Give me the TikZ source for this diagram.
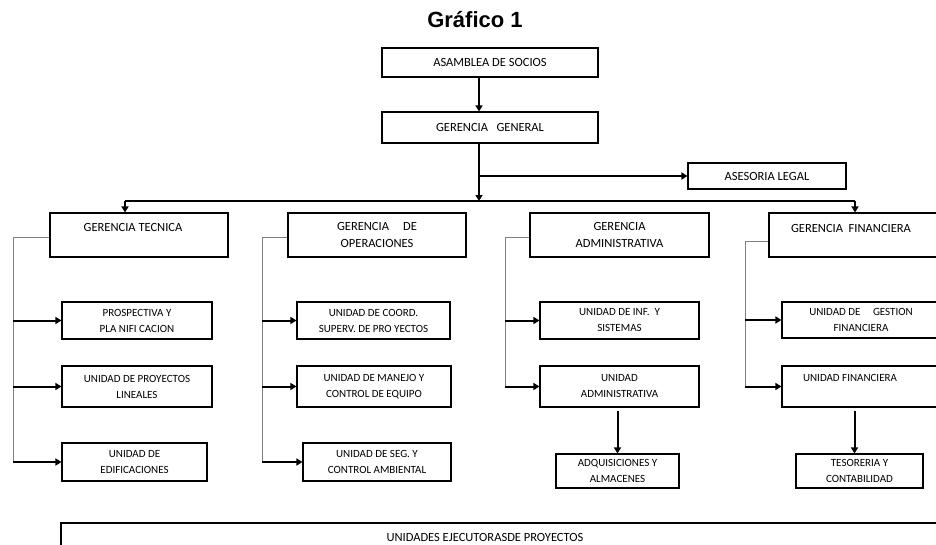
\documentclass[tikz,border=0pt]{standalone}
\usepackage{fontspec}
\setmainfont{Carlito}
\newfontfamily\titlefont{Liberation Sans}
\usetikzlibrary{arrows.meta}

\tikzset{
  box/.style={draw, line width=1.1pt, inner sep=0pt, align=center, font=\fontsize{11}{16}\selectfont},
  headbox/.style={box, font=\fontsize{12.5}{17}\selectfont},
  lbl/.style={inner sep=0pt, align=center, font=\fontsize{12.5}{17}\selectfont},
  arr/.style={line width=2pt, -{Triangle[length=6pt,width=7pt]}},
  bus/.style={line width=1.3pt},
  side/.style={gray, line width=1pt},
}

\begin{document}
\begin{tikzpicture}[x=1pt, y=-1pt]
	\useasboundingbox (0,0) rectangle (936,544);
	\clip (0,0) rectangle (936,544);

	% Title
	\node[font=\titlefont\bfseries\fontsize{22}{26}\selectfont] (titulo) at (475,20) {Gráfico 1};

	% Top levels
	\node[headbox, minimum width=216pt, minimum height=29pt] (asamblea) at (490,62.5) {ASAMBLEA DE SOCIOS};
	\node[headbox, minimum width=216pt, minimum height=31pt] (general) at (490,127.5) {GERENCIA\ \ \ GENERAL};
	\node[headbox, minimum width=158pt, minimum height=26pt] (asesoria) at (767,176) {ASESORIA LEGAL};

	% Gerencias
	\node[box, minimum width=178pt, minimum height=44pt] (tecnica) at (139,235) {};
	\node[lbl] (tecnica-t) at (133,227) {GERENCIA TECNICA};
	\node[headbox, minimum width=178pt, minimum height=44pt] (operaciones) at (377,235) {GERENCIA\ \ \ \ \ DE\\OPERACIONES};
	\node[headbox, minimum width=179pt, minimum height=44pt] (administrativa) at (619.5,235) {GERENCIA\\ADMINISTRATIVA};
	\node[box, minimum width=171pt, minimum height=44pt] (financiera) at (854.5,235) {};
	\node[lbl] (financiera-t) at (851,228) {GERENCIA\ \ FINANCIERA};

	% Unidades
	\node[box, minimum width=150pt, minimum height=37pt] (prospectiva) at (137,320.5) {PROSPECTIVA Y\\PLA NIFI CACION};
	\node[box, minimum width=150pt, minimum height=41pt] (lineales) at (137,386.5) {UNIDAD DE PROYECTOS\\LINEALES};
	\node[box, minimum width=145pt, minimum height=38pt] (edificaciones) at (134.5,462) {UNIDAD DE\\EDIFICACIONES};

	\node[box, minimum width=153pt, minimum height=37pt] (coord) at (373.5,320.5) {UNIDAD DE COORD.\\SUPERV. DE PRO YECTOS};
	\node[box, minimum width=154pt, minimum height=41pt] (manejo) at (374,386.5) {UNIDAD DE MANEJO Y\\CONTROL DE EQUIPO};
	\node[box, minimum width=148pt, minimum height=38pt] (seg) at (377,462) {UNIDAD DE SEG. Y\\CONTROL AMBIENTAL};

	\node[box, minimum width=159pt, minimum height=37pt] (inf) at (619.5,320.5) {UNIDAD DE INF.\ \ Y\\SISTEMAS};
	\node[box, minimum width=159pt, minimum height=41pt] (unidadadm) at (619.5,386.5) {UNIDAD\\ADMINISTRATIVA};
	\node[box, minimum width=123pt, minimum height=34pt] (adquisiciones) at (617.5,471) {ADQUISICIONES Y\\ALMACENES};

	\node[box, minimum width=158pt, minimum height=36pt] (gestion) at (861,320) {UNIDAD DE\ \ \ \ \ GESTION\\FINANCIERA};
	\node[box, minimum width=158pt, minimum height=41pt] (unidadfin) at (861,386.5) {};
	\node[lbl, font=\fontsize{11}{16}\selectfont] (unidadfin-t) at (850,378) {UNIDAD FINANCIERA};
	\node[box, minimum width=127pt, minimum height=34pt] (tesoreria) at (859.5,471) {TESORERIA Y\\CONTABILIDAD};

	\node[box, minimum width=939pt, minimum height=37pt] (ejecutoras) at (530.5,541.5) {};
	\node[lbl] (ejecutoras-t) at (485,537) {UNIDADES EJECUTORASDE PROYECTOS};

	% Trunk and bus
	\coordinate (trunk) at (479,201);
	\coordinate (busL) at (125,201);
	\coordinate (busR) at (855,201);
	\draw[arr] (asamblea.south -| trunk) -- (general.north -| trunk);
	\draw[arr] (general.south -| trunk) -- (trunk);
	\draw[arr] (asesoria.west -| trunk) -- (asesoria.west);
	\draw[bus] (busL) -- (busR);
	\draw[arr] (busL) -- (busL |- tecnica.north);
	\draw[arr] (busR) -- (busR |- financiera.north);

	% Side spines
	\coordinate (spT) at (13,0);
	\coordinate (spO) at (262,0);
	\coordinate (spA) at (505,0);
	\coordinate (spF) at (745,0);
	\draw[side] ([yshift=-2pt]tecnica.west) -| (edificaciones.west -| spT);
	\draw[side] ([yshift=-2pt]operaciones.west) -| (seg.west -| spO);
	\draw[side] ([yshift=-2pt]administrativa.west) -| (unidadadm.west -| spA);
	\draw[side] ([yshift=-6pt]financiera.west) -| (unidadfin.west -| spF);

	\foreach \u/\s in {prospectiva/spT, lineales/spT, edificaciones/spT,
	                   coord/spO, manejo/spO, seg/spO,
	                   inf/spA, unidadadm/spA, gestion/spF, unidadfin/spF}
	\draw[arr] (\u.west -| \s) -- (\u.west);

	\draw[arr] ([yshift=-3pt]unidadadm.south -| adquisiciones) -- (adquisiciones.north);
	\draw[arr] ([xshift=-5pt, yshift=-3pt]unidadfin.south -| tesoreria) -- ([xshift=-5pt]tesoreria.north);
\end{tikzpicture}
\end{document}
